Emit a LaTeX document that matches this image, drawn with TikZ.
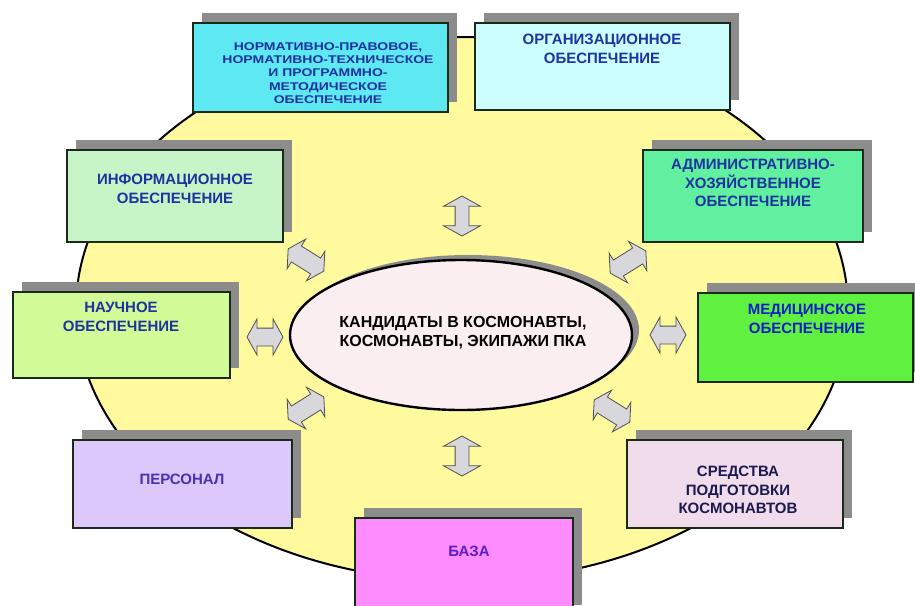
\documentclass[tikz,border=0pt]{standalone}
\usepackage{fontspec}
\setmainfont{Liberation Sans}
\usetikzlibrary{shapes.geometric,shapes.arrows,shadows}
\definecolor{fieldfill}{HTML}{FFFA9E}
\definecolor{corefill}{HTML}{FAEEF0}
\definecolor{boxline}{HTML}{1A2A1A}
\definecolor{shadowgray}{HTML}{8C8C8C}
\definecolor{arrowfill}{HTML}{D8D8DC}
\definecolor{arrowline}{HTML}{505050}
\definecolor{txtblue}{HTML}{1E32A0}
\definecolor{medblue}{HTML}{0A1EC8}
\definecolor{sredblue}{HTML}{1A1A50}
\definecolor{persblue}{HTML}{4632B4}
\definecolor{bazablue}{HTML}{5A1EC8}
\definecolor{cNorm}{HTML}{5EE8F2}
\definecolor{cOrg}{HTML}{CCFEFF}
\definecolor{cInfo}{HTML}{C8F5C8}
\definecolor{cAdm}{HTML}{60F0A0}
\definecolor{cNauch}{HTML}{D2FA96}
\definecolor{cMed}{HTML}{60F040}
\definecolor{cPers}{HTML}{DCC8FA}
\definecolor{cSred}{HTML}{F0DCEA}
\definecolor{cBaza}{HTML}{FF8CFF}
\begin{document}
\begin{tikzpicture}[x=1pt,y=-1pt,
  field/.style={ellipse, draw=black, line width=2pt, fill=fieldfill, inner sep=0pt,
    minimum width=772pt, minimum height=544pt},
  core/.style={ellipse, draw=black, line width=2.4pt, fill=corefill, inner sep=0pt,
    minimum width=342pt, minimum height=150pt,
    drop shadow={shadow xshift=7pt, shadow yshift=5pt, fill=shadowgray, opacity=1}},
  coretext/.style={align=center, inner sep=0pt, text=black,
    font=\bfseries\fontsize{16}{19}\selectfont},
  card/.style={draw=boxline, line width=2.4pt, inner sep=0pt, outer sep=0pt,
    drop shadow={shadow xshift=9pt, shadow yshift=10pt, fill=shadowgray, opacity=1}},
  lbl/.style={anchor=north, align=center, inner sep=0pt, text=txtblue,
    font=\bfseries\fontsize{15}{18.5}\selectfont},
  dbl/.style={double arrow, draw=arrowline, fill=arrowfill, line width=0.8pt,
    inner xsep=0pt, double arrow tip angle=122},
  vdbl/.style={dbl, minimum height=40pt, inner ysep=6.5pt, double arrow head extend=11.5pt},
  hdbl/.style={dbl, minimum height=36pt, inner ysep=8.5pt, double arrow head extend=9pt},
  ddbl/.style={dbl, minimum height=42pt, inner ysep=9pt, double arrow head extend=8pt}
]
\useasboundingbox (0,0) rectangle (915,605);
\fill[white] (0,0) rectangle (915,605);

\node[field] (field) at (462,309) {};

% arrows
\node[vdbl, rotate=90] (aTop) at (462,216) {};
\node[vdbl, rotate=90] (aBot) at (462,456) {};
\node[hdbl] (aLeft) at (265,337) {};
\node[hdbl] (aRight) at (668,335) {};
\node[ddbl, rotate=-32] (aUL) at (306,260) {};
\node[ddbl, rotate=32] (aUR) at (628,262) {};
\node[ddbl, rotate=32] (aLL) at (306,408) {};
\node[ddbl, rotate=-32] (aLR) at (612,411) {};

% centre
\node[core] (core) at (461,335) {};
\node[coretext] (coreT) at (463,333) {КАНДИДАТЫ В КОСМОНАВТЫ,\\КОСМОНАВТЫ, ЭКИПАЖИ ПКА};

% boxes
\node[card, fill=cNorm, minimum width=255pt, minimum height=89pt] (norm) at (320.5,67.5) {};
\node[anchor=north, inner sep=0pt, text=txtblue] (normT) at (328,41)
  {\scalebox{1}[0.8]{\fontsize{14}{16.5}\selectfont\bfseries
   \begin{tabular}{@{}c@{}}НОРМАТИВНО-ПРАВОВОЕ,\\НОРМАТИВНО-ТЕХНИЧЕСКОЕ\\И ПРОГРАММНО-\\МЕТОДИЧЕСКОЕ\\ОБЕСПЕЧЕНИЕ\end{tabular}}};

\node[card, fill=cOrg, minimum width=255pt, minimum height=87pt] (org) at (602.5,66.5) {};
\node[lbl] (orgT) at (602,34) {ОРГАНИЗАЦИОННОЕ\\ОБЕСПЕЧЕНИЕ};

\node[card, fill=cInfo, minimum width=216pt, minimum height=92pt] (info) at (175,196) {};
\node[lbl] (infoT) at (175,174) {ИНФОРМАЦИОННОЕ\\ОБЕСПЕЧЕНИЕ};

\node[card, fill=cAdm, minimum width=220pt, minimum height=92pt] (adm) at (753,196) {};
\node[lbl] (admT) at (753,159) {АДМИНИСТРАТИВНО-\\ХОЗЯЙСТВЕННОЕ\\ОБЕСПЕЧЕНИЕ};

\node[card, fill=cNauch, minimum width=217pt, minimum height=86pt] (nauch) at (121.5,335) {};
\node[lbl] (nauchT) at (121,302) {НАУЧНОЕ\\ОБЕСПЕЧЕНИЕ};

\node[card, fill=cMed, minimum width=215pt, minimum height=89pt] (med) at (805.5,337.5) {};
\node[lbl, text=medblue] (medT) at (807,304) {МЕДИЦИНСКОЕ\\ОБЕСПЕЧЕНИЕ};

\node[card, fill=cPers, minimum width=219pt, minimum height=88pt] (pers) at (182.5,484) {};
\node[lbl, text=persblue] (persT) at (182,474) {ПЕРСОНАЛ};

\node[card, fill=cSred, minimum width=216pt, minimum height=88pt] (sred) at (735,484) {};
\node[lbl, text=sredblue] (sredT) at (738,466) {СРЕДСТВА\\ПОДГОТОВКИ\\КОСМОНАВТОВ};

\node[card, fill=cBaza, minimum width=218pt, minimum height=97pt] (baza) at (464,566.5) {};
\node[lbl, text=bazablue] (bazaT) at (469,546) {БАЗА};
\end{tikzpicture}
\end{document}
